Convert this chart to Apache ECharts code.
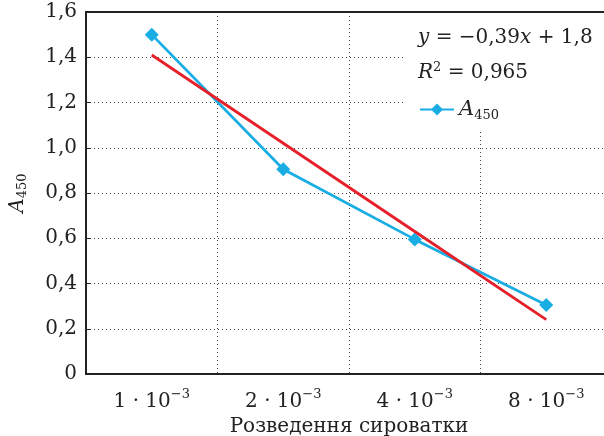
<!DOCTYPE html>
<html><head><meta charset="utf-8">
<script src="https://cdn.jsdelivr.net/npm/echarts@6/dist/echarts.min.js"></script>
<style>html,body{margin:0;padding:0;background:#fff}#c{width:604px;height:436px}</style>
</head><body><div id="c"></div>
<script>
// Data
const categories = ['1', '2', '4', '8']; // dilution, × 10^-3
const a450 = [1.50, 0.905, 0.595, 0.305];
const trend = [1.41, 1.02, 0.63, 0.24];
const yMin = 0, yMax = 1.6, yStep = 0.2;

const FONT = 'DejaVu Serif';
const INK = '#222';
const fmtY = v => v === 0 ? '0' : v.toFixed(1).replace('.', ',');
const dotted = { type: [1, 3], color: '#444', width: 1 };

const chart = echarts.init(document.getElementById('c'));
chart.setOption({
  animation: false,
  backgroundColor: '#fff',
  grid: { left: 86, top: 12, width: 526, height: 362, containLabel: false, outerBoundsMode: 'none' },
  xAxis: [{
    type: 'category', data: categories, boundaryGap: true,
    axisLine: { lineStyle: { color: INK, width: 2 } },
    axisTick: { inside: true, length: 6, lineStyle: { color: INK, width: 1.5 } },
    axisLabel: {
      margin: 14,
      formatter: v => '{n|' + v + ' · 10}{s|−3}',
      rich: {
        n: { fontFamily: FONT, fontSize: 20, color: INK },
        s: { fontFamily: FONT, fontSize: 13, color: INK, padding: [0, 0, 14, 0] }
      }
    },
    splitLine: { show: true, lineStyle: dotted },
    name: 'Розведення сироватки', nameLocation: 'middle', nameGap: 37,
    nameTextStyle: { fontFamily: FONT, fontSize: 20, color: INK }
  }, {
    type: 'category', data: categories, position: 'top',
    axisLine: { show: true, lineStyle: { color: INK, width: 2 } },
    axisTick: { show: false }, axisLabel: { show: false }, splitLine: { show: false }
  }],
  yAxis: {
    type: 'value', min: yMin, max: yMax, interval: yStep,
    axisLine: { show: true, lineStyle: { color: INK, width: 2 } },
    axisTick: { show: true, inside: true, length: 4, lineStyle: { color: INK } },
    axisLabel: { formatter: fmtY, fontFamily: FONT, fontSize: 20, color: INK, margin: 9 },
    splitLine: { show: true, lineStyle: dotted },
    name: '{a|A}{s|450}', nameLocation: 'middle', nameRotate: 90, nameGap: 57,
    nameTextStyle: {
      rich: {
        a: { fontFamily: FONT, fontStyle: 'italic', fontSize: 20, color: INK },
        s: { fontFamily: FONT, fontSize: 13, color: INK, padding: [10, 0, 0, 0] }
      }
    }
  },
  legend: {
    data: ['A450'], left: 414, top: 94, itemWidth: 34, itemHeight: 15, itemGap: 4,
    formatter: () => '{a|A}{s|450}',
    textStyle: {
      rich: {
        a: { fontFamily: FONT, fontStyle: 'italic', fontSize: 21, color: INK },
        s: { fontFamily: FONT, fontSize: 13, color: INK, padding: [12, 0, 0, 0] }
      }
    },
    z: 6
  },
  graphic: [
    { type: 'rect', left: 403, top: 14, shape: { width: 201, height: 118 }, style: { fill: '#fff' }, z: 3 },
    { type: 'text', left: 418, top: 28, z: 5, style: {
        text: '{i|y} = −0,39{i|x} + 1,8',
        rich: { i: { fontFamily: FONT, fontStyle: 'italic', fontSize: 20, fill: INK } },
        fontFamily: FONT, fontSize: 20, fill: INK } },
    { type: 'text', left: 418, top: 61, z: 5, style: {
        text: '{i|R}{s|2} = 0,965',
        rich: { i: { fontFamily: FONT, fontStyle: 'italic', fontSize: 20, fill: INK },
                s: { fontFamily: FONT, fontSize: 13, fill: INK, padding: [0, 0, 10, 0] } },
        fontFamily: FONT, fontSize: 20, fill: INK } }
  ],
  series: [{
    name: 'A450', type: 'line', data: a450,
    symbol: 'diamond', symbolSize: 14, showAllSymbol: true,
    lineStyle: { color: '#1AADE4', width: 2.8 },
    itemStyle: { color: '#1AADE4' }, z: 2
  }, {
    name: 'trend', type: 'line', data: trend, symbol: 'none',
    lineStyle: { color: '#E6202A', width: 2.8 }, z: 3
  }]
});
</script></body></html>
